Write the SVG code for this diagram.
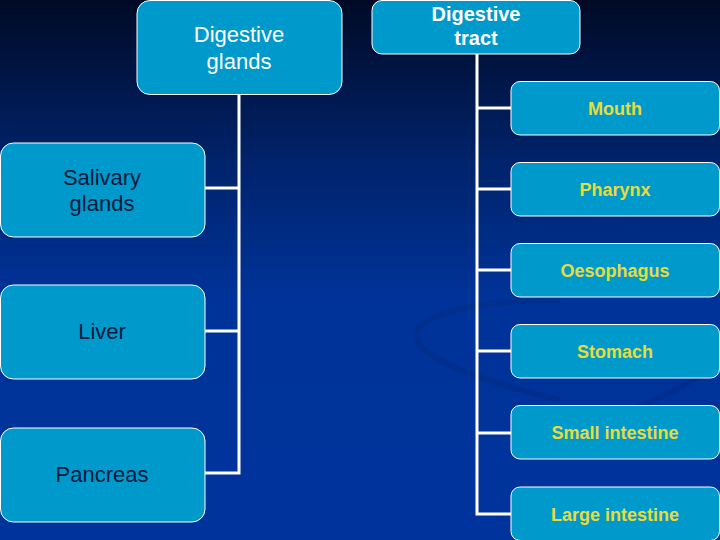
<svg xmlns="http://www.w3.org/2000/svg" width="720" height="540" viewBox="0 0 720 540">
<defs>
<linearGradient id="bg" x1="0" y1="0" x2="0" y2="1">
<stop offset="0" stop-color="#000a26"/>
<stop offset="0.3" stop-color="#00236b"/>
<stop offset="0.55" stop-color="#003399"/>
<stop offset="1" stop-color="#00339c"/>
</linearGradient>
<style>
.box{fill:#0099cc;stroke:#ffffff;stroke-width:1}
.ln{stroke:#ffffff;stroke-width:3;fill:none}
.lt{font-family:"Liberation Sans",Arial,sans-serif;font-size:22px;fill:#0a1a3c;text-anchor:middle}
.rt{font-family:"Liberation Sans",Arial,sans-serif;font-size:18px;font-weight:bold;fill:#e6dc3c;text-anchor:middle}
.wt{font-family:"Liberation Sans",Arial,sans-serif;fill:#ffffff;text-anchor:middle}
</style>
</defs>
<rect width="720" height="540" fill="url(#bg)"/>
<g fill="none" stroke="#002a80" stroke-width="6" opacity="0.45">
<path d="M560 300 C 460 300, 400 320, 420 345 C 440 370, 520 390, 560 400"/>
<path d="M600 420 C 640 410, 700 380, 720 360"/>
</g>
<g id="connectors">
<polyline class="ln" points="239,94 239,473 205,473"/>
<line class="ln" x1="205" y1="188" x2="239" y2="188"/>
<line class="ln" x1="205" y1="331" x2="239" y2="331"/>
<polyline class="ln" points="477,54 477,514 511,514"/>
<line class="ln" x1="477" y1="108" x2="511" y2="108"/>
<line class="ln" x1="477" y1="189" x2="511" y2="189"/>
<line class="ln" x1="477" y1="270" x2="511" y2="270"/>
<line class="ln" x1="477" y1="351" x2="511" y2="351"/>
<line class="ln" x1="477" y1="433" x2="511" y2="433"/>
</g>
<g id="digestive-glands">
<rect class="box" x="137" y="0.5" width="205" height="94" rx="13"/>
<text class="wt" x="239" y="42" font-size="22">Digestive</text>
<text class="wt" x="239" y="69" font-size="22">glands</text>
</g>
<g id="digestive-tract">
<rect class="box" x="372" y="0.5" width="208" height="53.5" rx="10"/>
<text class="wt" x="476" y="21" font-size="20" font-weight="bold">Digestive</text>
<text class="wt" x="476" y="45" font-size="20" font-weight="bold">tract</text>
</g>
<g id="salivary">
<rect class="box" x="0.5" y="143" width="204.5" height="94" rx="13"/>
<text class="lt" x="102" y="185">Salivary</text>
<text class="lt" x="102" y="211">glands</text>
</g>
<g id="liver">
<rect class="box" x="0.5" y="285" width="204.5" height="94" rx="13"/>
<text class="lt" x="102" y="339">Liver</text>
</g>
<g id="pancreas">
<rect class="box" x="0.5" y="428" width="204.5" height="94" rx="13"/>
<text class="lt" x="102" y="482">Pancreas</text>
</g>
<g id="mouth">
<rect class="box" x="511" y="81.5" width="208.5" height="53.5" rx="9"/>
<text class="rt" x="615" y="114.5">Mouth</text>
</g>
<g id="pharynx">
<rect class="box" x="511" y="162.5" width="208.5" height="53.5" rx="9"/>
<text class="rt" x="615" y="195.5">Pharynx</text>
</g>
<g id="oesophagus">
<rect class="box" x="511" y="243.5" width="208.5" height="53.5" rx="9"/>
<text class="rt" x="615" y="276.5">Oesophagus</text>
</g>
<g id="stomach">
<rect class="box" x="511" y="324.5" width="208.5" height="53.5" rx="9"/>
<text class="rt" x="615" y="357.5">Stomach</text>
</g>
<g id="small-intestine">
<rect class="box" x="511" y="405.5" width="208.5" height="53.5" rx="9"/>
<text class="rt" x="615" y="438.5">Small intestine</text>
</g>
<g id="large-intestine">
<rect class="box" x="511" y="487" width="208.5" height="53.5" rx="9"/>
<text class="rt" x="615" y="520.5">Large intestine</text>
</g>
</svg>
